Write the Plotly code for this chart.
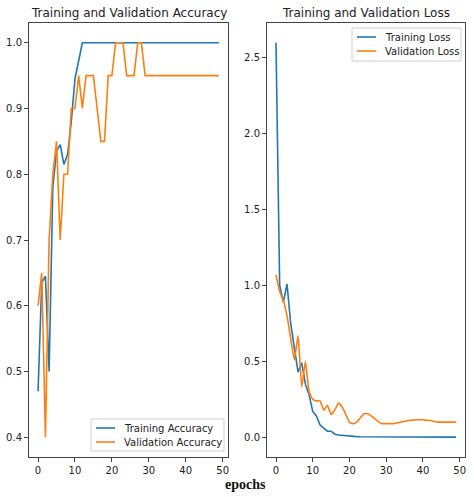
import plotly.graph_objects as go

epochs = list(range(50))

train_acc = [0.47, 0.635, 0.645, 0.50, 0.78, 0.835, 0.845, 0.815, 0.83, 0.88,
             0.945, 0.97] + [1.0] * 38
val_acc = [0.60, 0.65, 0.40, 0.70, 0.80, 0.85, 0.70, 0.80, 0.80, 0.90,
           0.90, 0.95, 0.90, 0.95, 0.95, 0.95, 0.90, 0.85, 0.85, 0.95,
           0.95, 1.0, 1.0, 1.0, 0.95, 0.95, 0.95, 1.0, 1.0] + [0.95] * 21

train_loss = [2.60, 1.00, 0.89, 1.01, 0.75, 0.58, 0.43, 0.49, 0.35, 0.28,
              0.17, 0.14, 0.08, 0.06, 0.04, 0.04, 0.02, 0.015, 0.012, 0.009,
              0.006, 0.005, 0.004, 0.003, 0.003, 0.002, 0.002, 0.002, 0.002, 0.001,
              0.001, 0.001, 0.001, 0.001, 0.001, 0.001, 0.001, 0.001, 0.001, 0.001,
              0.001, 0.001, 0.001, 0.001, 0.001, 0.001, 0.001, 0.001, 0.001, 0.001]
val_loss = [1.07, 0.96, 0.90, 0.80, 0.65, 0.51, 0.67, 0.33, 0.50, 0.30,
            0.25, 0.24, 0.24, 0.18, 0.21, 0.15, 0.18, 0.225, 0.20, 0.15,
            0.10, 0.09, 0.10, 0.13, 0.155, 0.155, 0.14, 0.12, 0.10, 0.09,
            0.09, 0.09, 0.09, 0.095, 0.10, 0.105, 0.11, 0.112, 0.115, 0.115,
            0.115, 0.112, 0.11, 0.105, 0.10, 0.10, 0.10, 0.10, 0.10, 0.10]

acc_ticks = [0.4, 0.5, 0.6, 0.7, 0.8, 0.9, 1.0]
loss_ticks = [0.0, 0.5, 1.0, 1.5, 2.0, 2.5]
x_ticks = [0, 10, 20, 30, 40, 50]

BLUE = "#1f77b4"
ORANGE = "#ff7f0e"
FONT = "DejaVu Sans"
W, H = 474, 497

series = [
    dict(x=epochs, y=train_acc, name="Training Accuracy", color=BLUE, ax="1", spline=False),
    dict(x=epochs, y=val_acc, name="Validation Accuracy", color=ORANGE, ax="1", spline=False),
    dict(x=epochs, y=train_loss, name="Training Loss", color=BLUE, ax="2", spline=False),
    dict(x=epochs, y=val_loss, name="Validation Loss", color=ORANGE, ax="2", spline=True),
]

fig = go.Figure()
for s in series:
    suffix = "" if s["ax"] == "1" else "2"
    line = dict(color=s["color"], width=1.6)
    if s["spline"]:
        line.update(shape="spline", smoothing=0.4)
    fig.add_trace(go.Scatter(x=s["x"], y=s["y"], mode="lines", name=s["name"], line=line,
                             xaxis="x" + suffix, yaxis="y" + suffix, showlegend=False))

# hand-drawn compact legends (matplotlib style)
shapes = []
annotations = []
legend_boxes = [
    dict(left=91, top=419, bottom=451, rows=[428, 442], items=series[0:2]),
    dict(left=352, top=28, bottom=61, rows=[37, 51], items=series[2:4]),
]
legend_rights = [224, 461]
for box, right in zip(legend_boxes, legend_rights):
    shapes.append(dict(type="rect", xref="paper", yref="paper",
                       x0=box["left"] / W, x1=right / W,
                       y0=1 - box["bottom"] / H, y1=1 - box["top"] / H,
                       line=dict(color="#d0d0d0", width=1), fillcolor="rgba(255,255,255,0.8)",
                       layer="above"))
    for row, item in zip(box["rows"], box["items"]):
        shapes.append(dict(type="line", xref="paper", yref="paper",
                           x0=(box["left"] + 5) / W, x1=(box["left"] + 24) / W,
                           y0=1 - row / H, y1=1 - row / H,
                           line=dict(color=item["color"], width=1.6), layer="above"))
        annotations.append(dict(text=item["name"], x=(box["left"] + 31) / W, y=1 - row / H,
                                xref="paper", yref="paper", showarrow=False,
                                xanchor="left", yanchor="middle",
                                font=dict(family=FONT, size=10, color="#222")))

axcommon = dict(showline=True, mirror=True, linecolor="#444", linewidth=1, ticks="outside",
                ticklen=4, tickcolor="#444", showgrid=False, zeroline=False,
                tickfont=dict(family=FONT, size=10, color="#222"))

ydom = [1 - 457 / H, 1 - 23 / H]
annotations += [
    dict(text="Training and Validation Accuracy", x=(29 + 228) / 2 / W, y=1 - 13 / H,
         xref="paper", yref="paper", showarrow=False, xanchor="center", yanchor="middle",
         font=dict(family=FONT, size=12, color="#222")),
    dict(text="Training and Validation Loss", x=(267 + 465) / 2 / W, y=1 - 13 / H,
         xref="paper", yref="paper", showarrow=False, xanchor="center", yanchor="middle",
         font=dict(family=FONT, size=12, color="#222")),
    dict(text="<b>epochs</b>", x=245 / W, y=1 - 484 / H,
         xref="paper", yref="paper", showarrow=False, xanchor="center", yanchor="middle",
         font=dict(family="Liberation Serif", size=14, color="#111")),
]

fig.update_layout(
    width=W, height=H, margin=dict(l=0, r=0, t=0, b=0),
    paper_bgcolor="white", plot_bgcolor="white", showlegend=False,
    xaxis=dict(domain=[29 / W, 228 / W], range=[-2.45, 51.45], tickvals=x_ticks, anchor="y", **axcommon),
    yaxis=dict(domain=ydom, range=[0.37, 1.03], tickvals=acc_ticks, tickformat=".1f", anchor="x", **axcommon),
    xaxis2=dict(domain=[267 / W, 465 / W], range=[-2.45, 51.45], tickvals=x_ticks, anchor="y2", **axcommon),
    yaxis2=dict(domain=ydom, range=[-0.13, 2.73], tickvals=loss_ticks, tickformat=".1f", anchor="x2", **axcommon),
    shapes=shapes,
    annotations=annotations,
)

fig.write_html("out.html")
